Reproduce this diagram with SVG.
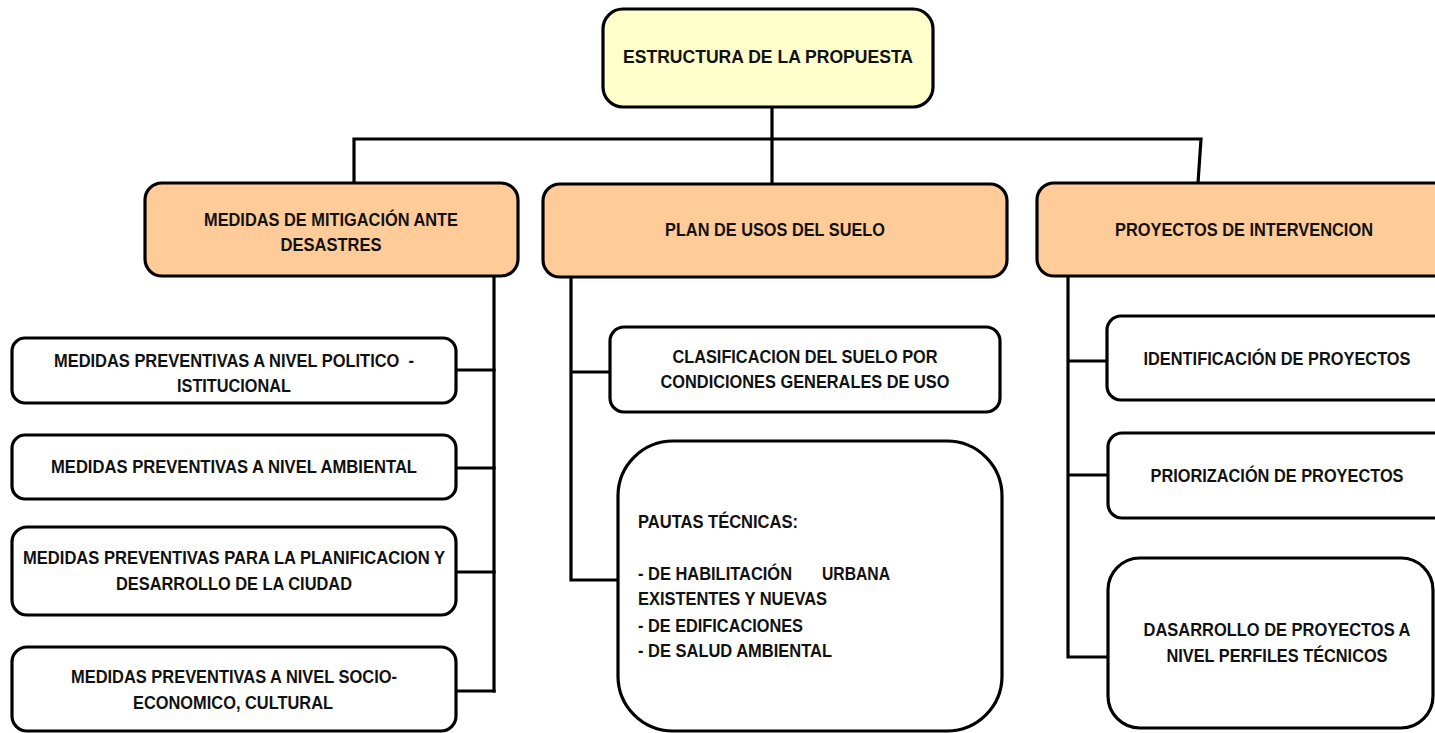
<svg xmlns="http://www.w3.org/2000/svg" width="1435" height="733" viewBox="0 0 1435 733">
<style>
.box{stroke:#000;stroke-width:3.2;}
.w{fill:#fff;}
.o{fill:#FFCC99;}
.y{fill:#FFFFCC;}
.t{font-family:"Liberation Sans",Arial,sans-serif;font-weight:bold;font-size:18px;fill:#111;}
.c{text-anchor:middle;}
.ln{stroke:#000;stroke-width:3.2;fill:none;stroke-linecap:square;}
</style>
<rect width="1435" height="733" fill="#fff"/>
<g id="connectors">
<path class="ln" d="M772 107V183"/>
<path class="ln" d="M354 183V139H1201L1198 183"/>
<path class="ln" d="M494 276V691"/>
<path class="ln" d="M456 370H494M456 468H494M456 572H494M456 691H494"/>
<path class="ln" d="M571 277V580H618M571 372H610"/>
<path class="ln" d="M1068 276V657H1108M1068 361H1107M1068 475H1108"/>
</g>
<g id="n-root">
<rect class="box y" x="603" y="9" width="330" height="98" rx="20"/>
<text class="t c" x="768" y="63" textLength="290" lengthAdjust="spacingAndGlyphs" style="font-size:19px">ESTRUCTURA DE LA PROPUESTA</text>
</g>
<g id="n-mitigacion">
<rect class="box o" x="145" y="183" width="373" height="93" rx="17"/>
<text class="t c" x="331" y="226" textLength="254" lengthAdjust="spacingAndGlyphs">MEDIDAS DE MITIGACIÓN ANTE</text>
<text class="t c" x="331" y="251" textLength="101" lengthAdjust="spacingAndGlyphs">DESASTRES</text>
</g>
<g id="n-plan">
<rect class="box o" x="543" y="184" width="464" height="93" rx="17"/>
<text class="t c" x="775" y="236" textLength="220" lengthAdjust="spacingAndGlyphs">PLAN DE USOS DEL SUELO</text>
</g>
<g id="n-proyectos">
<rect class="box o" x="1037" y="183" width="430" height="93" rx="17"/>
<text class="t c" x="1244" y="236" textLength="258" lengthAdjust="spacingAndGlyphs">PROYECTOS DE INTERVENCION</text>
</g>
<g id="n-politico">
<rect class="box w" x="12" y="338" width="444" height="65" rx="13"/>
<text class="t c" x="234" y="367" textLength="360" lengthAdjust="spacingAndGlyphs" xml:space="preserve">MEDIDAS PREVENTIVAS A NIVEL POLITICO  -</text>
<text class="t c" x="234" y="392" textLength="114" lengthAdjust="spacingAndGlyphs">ISTITUCIONAL</text>
</g>
<g id="n-ambiental">
<rect class="box w" x="12" y="435" width="444" height="64" rx="13"/>
<text class="t c" x="234" y="473" textLength="366" lengthAdjust="spacingAndGlyphs">MEDIDAS PREVENTIVAS A NIVEL AMBIENTAL</text>
</g>
<g id="n-planificacion">
<rect class="box w" x="12" y="527" width="444" height="88" rx="15"/>
<text class="t c" x="234" y="564" textLength="422" lengthAdjust="spacingAndGlyphs">MEDIDAS PREVENTIVAS PARA LA PLANIFICACION Y</text>
<text class="t c" x="234" y="590" textLength="236" lengthAdjust="spacingAndGlyphs">DESARROLLO DE LA CIUDAD</text>
</g>
<g id="n-socio">
<rect class="box w" x="12" y="647" width="444" height="84" rx="15"/>
<text class="t c" x="234" y="683" textLength="326" lengthAdjust="spacingAndGlyphs">MEDIDAS PREVENTIVAS A NIVEL SOCIO-</text>
<text class="t c" x="233" y="709" textLength="200" lengthAdjust="spacingAndGlyphs">ECONOMICO, CULTURAL</text>
</g>
<g id="n-clasificacion">
<rect class="box w" x="610" y="327" width="390" height="85" rx="14"/>
<text class="t c" x="805" y="363" textLength="265" lengthAdjust="spacingAndGlyphs">CLASIFICACION DEL SUELO POR</text>
<text class="t c" x="805" y="388" textLength="289" lengthAdjust="spacingAndGlyphs">CONDICIONES GENERALES DE USO</text>
</g>
<g id="n-pautas">
<rect class="box w" x="618" y="441" width="384" height="290" rx="55"/>
<text class="t" x="638" y="528" textLength="160" lengthAdjust="spacingAndGlyphs">PAUTAS TÉCNICAS:</text>
<text class="t" x="638" y="580" textLength="154" lengthAdjust="spacingAndGlyphs">- DE HABILITACIÓN</text>
<text class="t" x="822" y="580" textLength="68" lengthAdjust="spacingAndGlyphs">URBANA</text>
<text class="t" x="638" y="605" textLength="189" lengthAdjust="spacingAndGlyphs">EXISTENTES Y NUEVAS</text>
<text class="t" x="638" y="632" textLength="165" lengthAdjust="spacingAndGlyphs">- DE EDIFICACIONES</text>
<text class="t" x="638" y="657" textLength="194" lengthAdjust="spacingAndGlyphs">- DE SALUD AMBIENTAL</text>
</g>
<g id="n-identificacion">
<rect class="box w" x="1107" y="316" width="360" height="84" rx="14"/>
<text class="t c" x="1277" y="365" textLength="267" lengthAdjust="spacingAndGlyphs">IDENTIFICACIÓN DE PROYECTOS</text>
</g>
<g id="n-priorizacion">
<rect class="box w" x="1108" y="433" width="360" height="85" rx="14"/>
<text class="t c" x="1277" y="482" textLength="253" lengthAdjust="spacingAndGlyphs">PRIORIZACIÓN DE PROYECTOS</text>
</g>
<g id="n-desarrollo">
<rect class="box w" x="1108" y="558" width="325" height="170" rx="32"/>
<text class="t c" x="1277" y="636" textLength="267" lengthAdjust="spacingAndGlyphs">DASARROLLO DE PROYECTOS A</text>
<text class="t c" x="1277" y="662" textLength="221" lengthAdjust="spacingAndGlyphs">NIVEL PERFILES TÉCNICOS</text>
</g>
</svg>
